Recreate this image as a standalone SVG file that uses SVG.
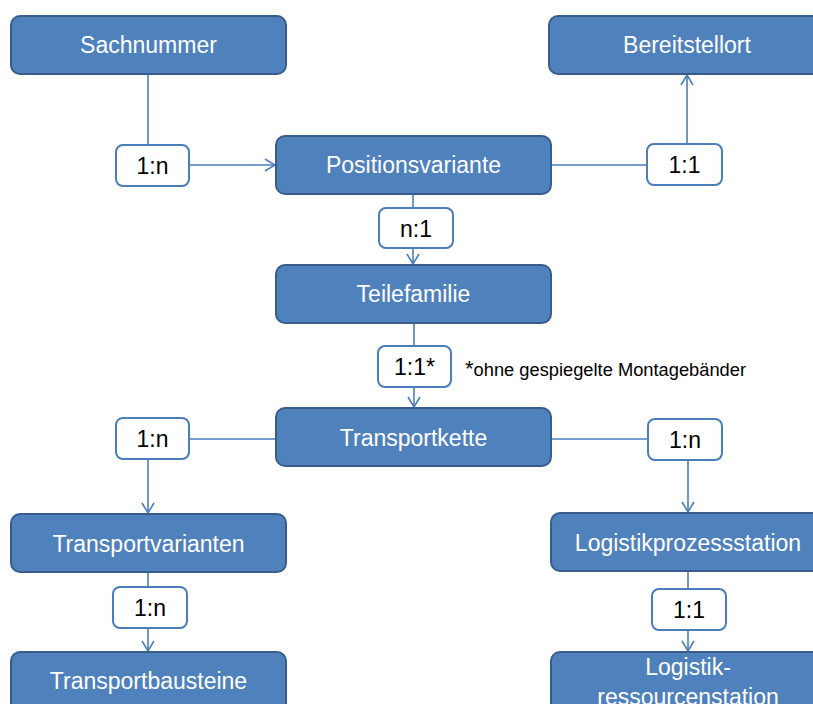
<svg xmlns="http://www.w3.org/2000/svg" width="813" height="704" viewBox="0 0 813 704">
  <style>
    .node rect { fill: #4F81BD; stroke: #385D8A; stroke-width: 2; }
    .node text { fill: #FFFFFF; font-family: "Liberation Sans", Arial, sans-serif; font-size: 23px; text-anchor: middle; }
    .lbl rect { fill: #FFFFFF; stroke: #4A7EBB; stroke-width: 2; }
    .lbl text { fill: #000000; font-family: "Liberation Sans", Arial, sans-serif; font-size: 23px; text-anchor: middle; }
    .conn { fill: none; stroke: #4A7EBB; stroke-width: 1.6; }
    .note { fill: #000000; font-family: "Liberation Sans", Arial, sans-serif; }
  </style>
  <defs>
    <marker id="arr" viewBox="-11 -7 12 14" refX="0" refY="0" markerWidth="12" markerHeight="14" markerUnits="userSpaceOnUse" orient="auto">
      <path d="M-10,-6 L0,0 L-10,6" fill="none" stroke="#4A7EBB" stroke-width="1.6"/>
    </marker>
  </defs>

  <!-- connectors -->
  <g id="connectors">
    <path class="conn" d="M148,74 V145"/>
    <path class="conn" d="M189,165 H275" marker-end="url(#arr)"/>
    <path class="conn" d="M551,165 H647"/>
    <path class="conn" d="M687,144 V75" marker-end="url(#arr)"/>
    <path class="conn" d="M413,194 V208"/>
    <path class="conn" d="M413,248 V264" marker-end="url(#arr)"/>
    <path class="conn" d="M414,323 V346"/>
    <path class="conn" d="M414,387 V407" marker-end="url(#arr)"/>
    <path class="conn" d="M276,439 H189"/>
    <path class="conn" d="M148,459 V513" marker-end="url(#arr)"/>
    <path class="conn" d="M551,439 H648"/>
    <path class="conn" d="M688,460 V512" marker-end="url(#arr)"/>
    <path class="conn" d="M148,572 V587"/>
    <path class="conn" d="M148,628 V651" marker-end="url(#arr)"/>
    <path class="conn" d="M688,571 V589"/>
    <path class="conn" d="M688,630 V651" marker-end="url(#arr)"/>
  </g>

  <!-- entity nodes -->
  <g id="sachnummer" class="node">
    <rect x="11" y="16" width="275" height="58" rx="9"/>
    <text x="148.5" y="53">Sachnummer</text>
  </g>
  <g id="bereitstellort" class="node">
    <rect x="549" y="16" width="275" height="58" rx="9"/>
    <text x="687" y="53">Bereitstellort</text>
  </g>
  <g id="positionsvariante" class="node">
    <rect x="276" y="136" width="275" height="58" rx="9"/>
    <text x="413.5" y="173">Positionsvariante</text>
  </g>
  <g id="teilefamilie" class="node">
    <rect x="276" y="265" width="275" height="58" rx="9"/>
    <text x="413.5" y="302">Teilefamilie</text>
  </g>
  <g id="transportkette" class="node">
    <rect x="276" y="408" width="275" height="58" rx="9"/>
    <text x="413.5" y="446">Transportkette</text>
  </g>
  <g id="transportvarianten" class="node">
    <rect x="11" y="514" width="275" height="58" rx="9"/>
    <text x="148.5" y="552">Transportvarianten</text>
  </g>
  <g id="logistikprozessstation" class="node">
    <rect x="551" y="513" width="275" height="58" rx="9"/>
    <text x="688" y="551">Logistikprozessstation</text>
  </g>
  <g id="transportbausteine" class="node">
    <rect x="11" y="652" width="275" height="60" rx="9"/>
    <text x="148.5" y="689">Transportbausteine</text>
  </g>
  <g id="logistikressourcenstation" class="node">
    <rect x="551" y="652" width="275" height="70" rx="9"/>
    <text x="688" y="675">Logistik-</text>
    <text x="688" y="705">ressourcenstation</text>
  </g>

  <!-- cardinality labels -->
  <g id="lbl-sach-pos" class="lbl">
    <rect x="116" y="145" width="73" height="41" rx="7"/>
    <text x="152.5" y="174">1:n</text>
  </g>
  <g id="lbl-pos-bereit" class="lbl">
    <rect x="647" y="144" width="75" height="41" rx="7"/>
    <text x="684.5" y="173">1:1</text>
  </g>
  <g id="lbl-pos-teile" class="lbl">
    <rect x="379" y="208" width="74" height="40" rx="7"/>
    <text x="416" y="236.5">n:1</text>
  </g>
  <g id="lbl-teile-kette" class="lbl">
    <rect x="378" y="346" width="73" height="41" rx="7"/>
    <text x="414.5" y="375">1:1*</text>
  </g>
  <g id="lbl-kette-tv" class="lbl">
    <rect x="116" y="418" width="73" height="41" rx="7"/>
    <text x="152.5" y="447">1:n</text>
  </g>
  <g id="lbl-kette-lps" class="lbl">
    <rect x="648" y="419" width="74" height="41" rx="7"/>
    <text x="685" y="448">1:n</text>
  </g>
  <g id="lbl-tv-tb" class="lbl">
    <rect x="113" y="587" width="74" height="41" rx="7"/>
    <text x="150" y="616">1:n</text>
  </g>
  <g id="lbl-lps-lrs" class="lbl">
    <rect x="652" y="589" width="74" height="41" rx="7"/>
    <text x="689" y="618">1:1</text>
  </g>

  <!-- footnote -->
  <text id="footnote" class="note" x="465" y="376"><tspan font-size="22">*</tspan><tspan font-size="18.3">ohne gespiegelte Montagebänder</tspan></text>
</svg>
